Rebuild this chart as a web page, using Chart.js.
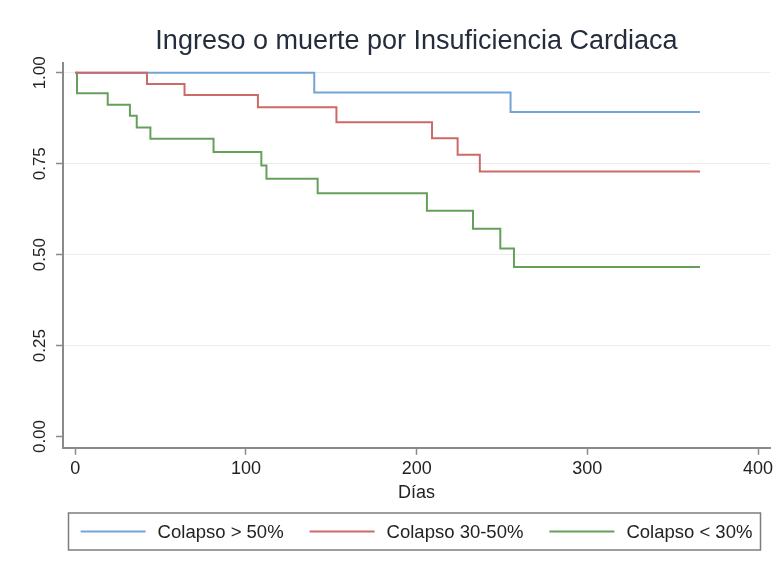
<!DOCTYPE html>
<html lang="es">
<head>
<meta charset="UTF-8">
<title>Ingreso o muerte por Insuficiencia Cardiaca</title>
<script src="https://cdn.jsdelivr.net/npm/chart.js"></script>
<style>
    html, body {
        margin: 0;
        padding: 0;
        background: #ffffff;
    }
    #wrap {
        width: 782px;
        height: 574px;
        position: relative;
    }
</style>
</head>
<body>
<div id="wrap">
    <canvas id="kmChart"></canvas>
</div>
<script>
    // Kaplan-Meier curves: days of follow-up and survival estimate at each step
    const blueDays = [0, 140, 255, 366];
    const blueSurv = [1, 0.946, 0.892, 0.892];

    const redDays = [0, 42, 64, 107, 153, 209, 224, 237, 366];
    const redSurv = [1, 0.969, 0.939, 0.905, 0.864, 0.820, 0.775, 0.729, 0.729];

    const greenDays = [0, 1, 19, 32, 36, 44, 81, 109, 112, 142, 206, 233, 249, 257, 366];
    const greenSurv = [1, 0.944, 0.912, 0.882, 0.850, 0.819, 0.782, 0.745, 0.709, 0.669, 0.621, 0.571, 0.517, 0.466, 0.466];

    const seriesNames = ['Colapso > 50%', 'Colapso 30-50%', 'Colapso < 30%'];
    const seriesColors = ['#74a3d6', '#cc6a68', '#65a05a'];
    const xTicks = [0, 100, 200, 300, 400];
    const yTicks = [0, 0.25, 0.5, 0.75, 1];
    const chartTitle = 'Ingreso o muerte por Insuficiencia Cardiaca';

    const FONT = "'Liberation Sans', Arial, Helvetica, sans-serif";
    const AXIS_GREY = '#8a8a8a';

    function toPoints(days, surv) {
        return days.map((d, i) => ({ x: d, y: surv[i] }));
    }

    // title centred over the plot region and a framed legend row underneath
    const titleAndLegend = {
        id: 'titleAndLegend',
        afterDraw(chart) {
            const ctx = chart.ctx;
            const area = chart.chartArea;
            const mid = (area.left + area.right) / 2;

            ctx.save();
            ctx.fillStyle = '#252d3d';
            ctx.font = '27px ' + FONT;
            ctx.textAlign = 'center';
            ctx.textBaseline = 'middle';
            ctx.fillText(chartTitle, mid, 42);

            // legend
            const lineLen = 65, gapText = 12, gapItem = 26;
            const cy = 531.5;
            ctx.font = '18.5px ' + FONT;
            const widths = seriesNames.map(t => ctx.measureText(t).width);
            let total = 0;
            widths.forEach((w, i) => {
                total += lineLen + gapText + w + (i < widths.length - 1 ? gapItem : 0);
            });
            let x = mid - total / 2;

            ctx.strokeStyle = '#7d7d7d';
            ctx.lineWidth = 1.5;
            ctx.strokeRect(area.left + 5.5, cy - 18.5, area.right - area.left - 15, 37);

            ctx.textAlign = 'left';
            ctx.fillStyle = '#222';
            seriesNames.forEach((name, i) => {
                ctx.strokeStyle = seriesColors[i];
                ctx.lineWidth = 2;
                ctx.beginPath();
                ctx.moveTo(x, cy);
                ctx.lineTo(x + lineLen, cy);
                ctx.stroke();
                x += lineLen + gapText;
                ctx.fillText(name, x, cy + 1);
                x += widths[i] + gapItem;
            });
            ctx.restore();
        }
    };

    const ctx = document.getElementById('kmChart').getContext('2d');
    new Chart(ctx, {
        type: 'line',
        data: {
            datasets: [
                {
                    label: seriesNames[0],
                    data: toPoints(blueDays, blueSurv),
                    borderColor: seriesColors[0],
                    order: 1
                },
                {
                    label: seriesNames[1],
                    data: toPoints(redDays, redSurv),
                    borderColor: seriesColors[1],
                    order: 0
                },
                {
                    label: seriesNames[2],
                    data: toPoints(greenDays, greenSurv),
                    borderColor: seriesColors[2],
                    order: 2
                }
            ]
        },
        options: {
            responsive: true,
            maintainAspectRatio: false,
            animation: false,
            layout: {
                padding: { left: 8, right: 12, top: 63, bottom: 68 }
            },
            elements: {
                line: { borderWidth: 2, stepped: true, tension: 0, fill: false },
                point: { radius: 0, hoverRadius: 0 }
            },
            plugins: {
                title: { display: false },
                legend: { display: false },
                tooltip: { enabled: false }
            },
            scales: {
                x: {
                    type: 'linear',
                    min: -7.2,
                    max: 407,
                    afterBuildTicks(scale) {
                        scale.ticks = xTicks.map(v => ({ value: v }));
                    },
                    ticks: {
                        color: '#222',
                        font: { family: FONT, size: 18 },
                        padding: 3,
                        maxRotation: 0
                    },
                    grid: {
                        drawOnChartArea: false,
                        drawTicks: true,
                        tickLength: 7,
                        tickColor: AXIS_GREY,
                        tickWidth: 1.5
                    },
                    border: { display: true, color: AXIS_GREY, width: 2 },
                    title: {
                        display: true,
                        text: 'Días',
                        color: '#222',
                        font: { family: FONT, size: 18 },
                        padding: { top: 0, bottom: 2 }
                    }
                },
                y: {
                    type: 'linear',
                    min: -0.031,
                    max: 1.027,
                    afterBuildTicks(scale) {
                        scale.ticks = yTicks.map(v => ({ value: v }));
                    },
                    afterFit(scale) {
                        scale.width = 55;
                    },
                    ticks: {
                        color: '#222',
                        font: { family: FONT, size: 17 },
                        minRotation: 90,
                        maxRotation: 90,
                        crossAlign: 'center',
                        padding: -1,
                        callback: v => v.toFixed(2)
                    },
                    grid: {
                        color: c => c.tick && c.tick.value === 0 ? 'rgba(0,0,0,0)' : '#ececec',
                        lineWidth: 1,
                        drawTicks: true,
                        tickLength: 7,
                        tickColor: AXIS_GREY,
                        tickWidth: 1.5
                    },
                    border: { display: true, color: AXIS_GREY, width: 2 }
                }
            }
        },
        plugins: [titleAndLegend]
    });
</script>
</body>
</html>
